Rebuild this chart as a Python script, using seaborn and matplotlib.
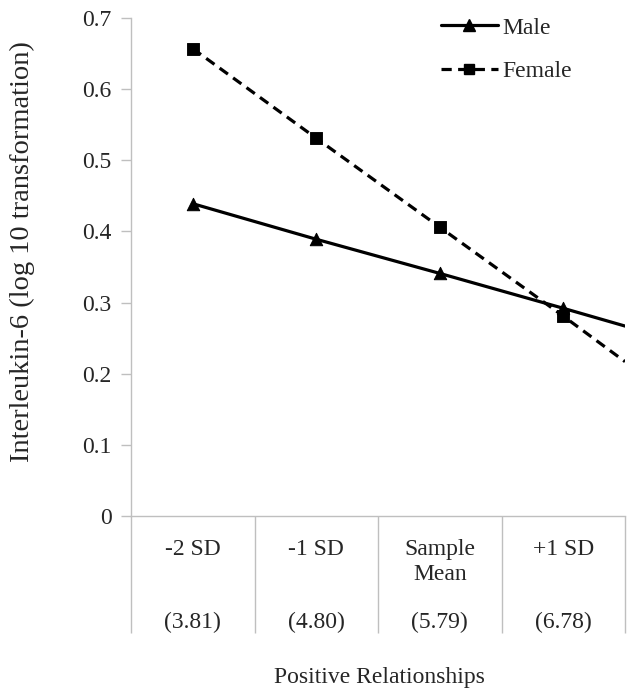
import pandas as pd
import seaborn as sns
import matplotlib.pyplot as plt
from matplotlib.lines import Line2D

# values
categories = ['-2 SD', '-1 SD', 'Sample\nMean', '+1 SD']
raw_scores = ['(3.81)', '(4.80)', '(5.79)', '(6.78)']
male = [0.439, 0.389, 0.341, 0.292]
female = [0.657, 0.531, 0.406, 0.281]
# where each line meets the right edge of the plot
male_edge = 0.267
female_edge = 0.217

sns.set_theme(style='white')
plt.rcParams['font.family'] = ['Liberation Serif', 'DejaVu Serif']

pos = list(range(len(categories)))
edge_x = len(categories) - 0.5

df_pts = pd.DataFrame({
    'x': pos + pos,
    'y': male + female,
    'sex': ['Male'] * len(pos) + ['Female'] * len(pos),
})
df_lines = pd.DataFrame({
    'x': pos + [edge_x] + pos + [edge_x],
    'y': male + [male_edge] + female + [female_edge],
    'sex': ['Male'] * (len(pos) + 1) + ['Female'] * (len(pos) + 1),
})

fig = plt.figure(figsize=(6.35, 6.98), dpi=100)
ax = fig.add_axes([131 / 635, 1 - 516 / 698, (625 - 131) / 635, (516 - 18) / 698])

grey = '#BFBFBF'
lw = 2.3
fs = 17
sns.lineplot(data=df_lines[df_lines.sex == 'Male'], x='x', y='y', ax=ax,
             color='black', linewidth=lw, legend=False)
sns.lineplot(data=df_lines[df_lines.sex == 'Female'], x='x', y='y', ax=ax,
             color='black', linewidth=lw, legend=False)
ax.lines[-1].set_dashes([3.2, 2.0])
sns.scatterplot(data=df_pts[df_pts.sex == 'Male'], x='x', y='y', ax=ax,
                marker='^', s=80, color='black', edgecolor='black', zorder=5, legend=False)
sns.scatterplot(data=df_pts[df_pts.sex == 'Female'], x='x', y='y', ax=ax,
                marker='s', s=64, color='black', edgecolor='black', zorder=5, legend=False)

ax.set_xlim(-0.5, edge_x)
ax.set_ylim(0, 0.7)
ax.set_yticks([i / 10 for i in range(8)])
ax.set_yticklabels(['0'] + ['%.1f' % (i / 10) for i in range(1, 8)])

for s in ['top', 'right']:
    ax.spines[s].set_visible(False)
for s in ['left', 'bottom']:
    ax.spines[s].set_color(grey)
    ax.spines[s].set_linewidth(1.0)
ax.spines['left'].set_bounds(0, 0.7)

ax.tick_params(axis='y', which='major', length=7, width=1, color=grey,
               labelsize=fs, pad=7, direction='out', left=True)
ax.set_xticks(pos)
ax.set_xticklabels(categories, fontsize=fs, linespacing=1.25)
ax.tick_params(axis='x', which='major', length=0, pad=16.5)
ax.set_xticks([p - 0.5 for p in pos] + [edge_x], minor=True)
ax.tick_params(axis='x', which='minor', length=84, width=1, color=grey,
               direction='out', bottom=True)

for p, t in zip(pos, raw_scores):
    ax.text(p, -0.214, t, transform=ax.get_xaxis_transform(),
            ha='center', va='center', fontsize=fs)

ax.set_xlabel('')
ax.set_ylabel('')
fig.text(0.5 * (131 + 625) / 635 + 0.002, 1 - 678 / 698, 'Positive Relationships',
         ha='center', va='center', fontsize=fs)
fig.text(22 / 635, 1 - 252 / 698, 'Interleukin-6 (log 10 transformation)',
         ha='center', va='center', rotation=90, fontsize=20.5)

handles = [
    Line2D([], [], color='black', linewidth=lw, marker='^', markersize=8.5),
    Line2D([], [], color='black', linewidth=lw, marker='s', markersize=7.5,
           dashes=[3.2, 2.0]),
]
ax.legend(handles, ['Male', 'Female'], loc='upper left',
          bbox_to_anchor=(441 / 635, 1 - 17 / 698), bbox_transform=fig.transFigure,
          frameon=False, fontsize=fs, handlelength=2.4, handletextpad=0.2,
          labelspacing=0.95, borderaxespad=0, borderpad=0)

plt.savefig('out.png', dpi=100)
